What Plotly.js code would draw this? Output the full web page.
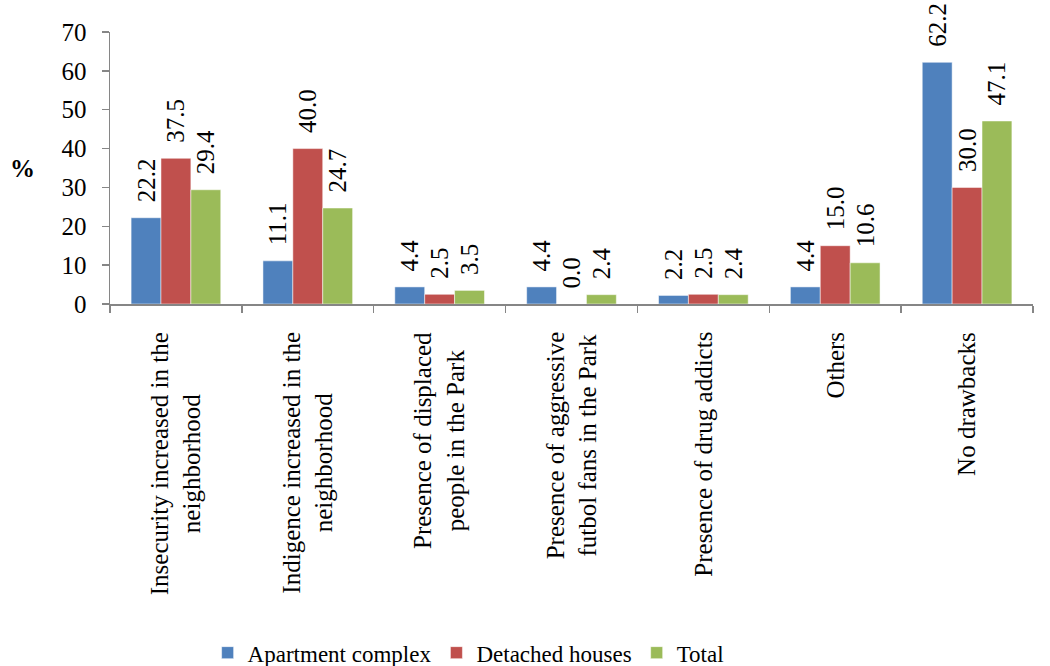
<!DOCTYPE html>
<html>
<head>
<meta charset="utf-8">
<script src="https://cdn.plot.ly/plotly-3.0.1.min.js"></script>
<style>html,body{margin:0;padding:0;background:#fff;}#chart{width:1050px;height:666px;}</style>
</head>
<body>
<div id="chart"></div>
<script>
var categories = [
  "Insecurity increased in the<br>neighborhood",
  "Indigence increased in the<br>neighborhood",
  "Presence of displaced<br>people in the Park",
  "Presence of aggressive<br>futbol fans in the Park",
  "Presence of drug addicts",
  "Others",
  "No drawbacks"
];
var apartment = [22.2, 11.1, 4.4, 4.4, 2.2, 4.4, 62.2];
var detached = [37.5, 40.0, 2.5, 0.0, 2.5, 15.0, 30.0];
var total = [29.4, 24.7, 3.5, 2.4, 2.4, 10.6, 47.1];
var seriesNames = ["Apartment complex", "Detached houses", "Total"];
var colors = ["#4F81BD", "#C0504D", "#9BBB59"];
var yTicks = [0, 10, 20, 30, 40, 50, 60, 70];

var FONT = "'Liberation Serif', 'Times New Roman', Times, serif";
var seriesData = [apartment, detached, total];
var traces = seriesData.map(function (vals, i) {
  return {
    type: "bar",
    name: seriesNames[i],
    x: categories,
    y: vals,
    marker: {color: colors[i], line: {color: "#ffffff", width: 0.5}},
    texttemplate: "\u00a0\u00a0%{y:.1f}",
    textposition: "outside",
    textangle: -90,
    constraintext: "none",
    cliponaxis: false,
    textfont: {family: FONT, size: 25, color: "#000"}
  };
});

var annotations = categories.map(function (c) {
  return {
    x: c, xref: "x",
    y: -0.095, yref: "paper",
    text: c,
    textangle: -90,
    showarrow: false,
    xanchor: "center",
    yanchor: "top",
    align: "center",
    font: {family: FONT, size: 25, color: "#000"}
  };
});
annotations.push({
  x: -0.095, xref: "paper", y: 0.5, yref: "paper",
  xanchor: "center", yanchor: "middle",
  text: "<b>%</b>", showarrow: false,
  font: {family: FONT, size: 25, color: "#000"}
});

var layout = {
  width: 1050, height: 666,
  margin: {l: 110, r: 17, t: 32, b: 362},
  paper_bgcolor: "#fff", plot_bgcolor: "#fff",
  font: {family: FONT, size: 25, color: "#000"},
  barmode: "group",
  bargap: 0.32,
  bargroupgap: 0,
  showlegend: true,
  legend: {
    orientation: "h", x: 0.388, xanchor: "center", yref: "container", y: 0.02, yanchor: "middle",
    font: {family: FONT, size: 23, color: "#000"},
    traceorder: "normal", itemwidth: 30
  },
  xaxis: {
    type: "category",
    showticklabels: false,
    tickson: "boundaries",
    ticks: "outside", ticklen: 7, tickcolor: "#868686", tickwidth: 1.5,
    showline: true, linecolor: "#868686", linewidth: 1.5,
    showgrid: false, zeroline: false
  },
  yaxis: {
    range: [0, 70],
    tickvals: yTicks,
    ticktext: yTicks.map(String),
    ticks: "outside", ticklen: 7, tickcolor: "#868686", tickwidth: 1.5,
    ticklabelstandoff: 10,
    showline: true, linecolor: "#868686", linewidth: 1.5,
    showgrid: false, zeroline: false,
    tickfont: {family: FONT, size: 25, color: "#000"}
  },
  annotations: annotations
};

Plotly.newPlot("chart", traces, layout, {displayModeBar: false, staticPlot: true});
</script>
</body>
</html>
